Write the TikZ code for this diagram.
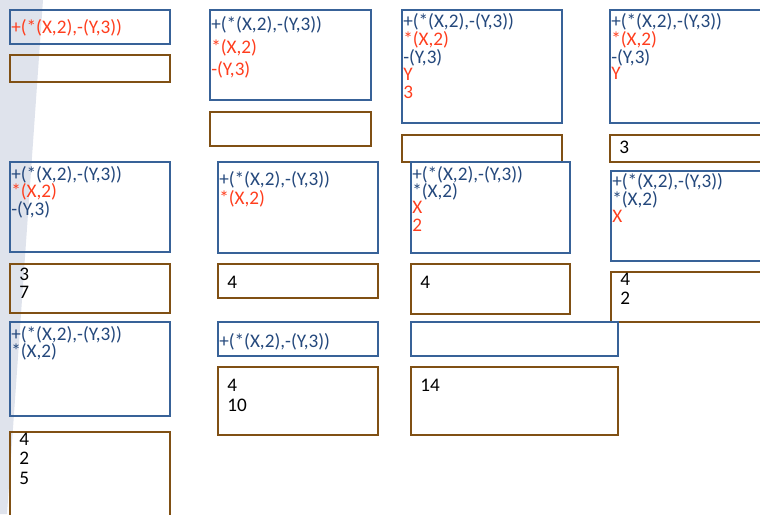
\documentclass[tikz,border=0pt]{standalone}
\usepackage{fontspec}
\setmainfont{Carlito}
\definecolor{bxblue}{RGB}{56,98,152}
\definecolor{txblue}{RGB}{36,72,124}
\definecolor{txred}{RGB}{255,62,30}
\definecolor{bxbrown}{RGB}{128,80,20}
\definecolor{wedge}{RGB}{223,227,236}
\newcommand{\tl}[5]{\node[txt,text=#4] (#1) at (#2,#3) {#5};}
\begin{document}
\begin{tikzpicture}[x=0.75pt,y=-0.75pt,
  bb/.style={draw=bxblue,line width=1pt},
  br/.style={draw=bxbrown,line width=1pt},
  txt/.style={anchor=base west,inner sep=0pt,font=\fontsize{14.4}{16}\selectfont}]
\useasboundingbox (0,0) rectangle (760,514);
\clip (0,0) rectangle (760,514);
\fill[wedge] (0,0) -- (43,0) -- (7,514) -- (0,514) -- cycle;
% Row 1
\draw[bb] (10,10) rectangle (170,44);
\tl{a1}{11}{33}{txred}{+(*(X,2),-(Y,3))}
\draw[br] (10,55) rectangle (170,82);
\draw[bb] (210,10) rectangle (371,100);
\tl{b1}{211}{31}{txblue}{+(*(X,2),-(Y,3))}
\tl{b2}{211}{53}{txred}{*(X,2)}
\tl{b3}{211}{75}{txred}{-(Y,3)}
\draw[br] (210,112) rectangle (371,146);
\draw[bb] (402,10) rectangle (562,123);
\tl{c1}{403}{27}{txblue}{+(*(X,2),-(Y,3))}
\tl{c2}{403}{45}{txred}{*(X,2)}
\tl{c3}{403}{63}{txblue}{-(Y,3)}
\tl{c4}{403}{80}{txred}{Y}
\tl{c5}{403}{98}{txred}{3}
\draw[br] (402,135) rectangle (562,162);
\draw[bb] (610,10) rectangle (780,123);
\tl{d1}{611}{27}{txblue}{+(*(X,2),-(Y,3))}
\tl{d2}{611}{45}{txred}{*(X,2)}
\tl{d3}{611}{63}{txblue}{-(Y,3)}
\tl{d4}{611}{79}{txred}{Y}
\draw[br] (610,135) rectangle (780,162);
\tl{d5}{619}{153}{black}{3}
% Row 2
\draw[bb] (10,162) rectangle (170,252);
\tl{e1}{11}{180}{txblue}{+(*(X,2),-(Y,3))}
\tl{e2}{11}{197}{txred}{*(X,2)}
\tl{e3}{11}{215}{txblue}{-(Y,3)}
\draw[br] (10,264) rectangle (170,313);
\tl{e4}{19}{280}{black}{3}
\tl{e5}{19}{298}{black}{7}
\draw[bb] (218,162) rectangle (378,253);
\tl{f1}{219}{185}{txblue}{+(*(X,2),-(Y,3))}
\tl{f2}{219}{204}{txred}{*(X,2)}
\draw[br] (218,264) rectangle (378,298);
\tl{f3}{227}{288}{black}{4}
\draw[bb] (411,162) rectangle (570,253);
\tl{g1}{412}{180}{txblue}{+(*(X,2),-(Y,3))}
\tl{g2}{412}{197}{txblue}{*(X,2)}
\tl{g3}{412}{213}{txred}{X}
\tl{g4}{412}{231}{txred}{2}
\draw[br] (411,264) rectangle (570,314);
\tl{g5}{420}{288}{black}{4}
\draw[bb] (611,171) rectangle (780,261);
\tl{h1}{612}{187}{txblue}{+(*(X,2),-(Y,3))}
\tl{h2}{612}{205}{txblue}{*(X,2)}
\tl{h3}{612}{222}{txred}{X}
\draw[br] (611,272) rectangle (780,322);
\tl{h4}{620}{285}{black}{4}
\tl{h5}{620}{304}{black}{2}
% Row 3
\draw[bb] (10,322) rectangle (170,416);
\tl{i1}{11}{340}{txblue}{+(*(X,2),-(Y,3))}
\tl{i2}{11}{357}{txblue}{*(X,2)}
\draw[br] (10,432) rectangle (170,530);
\tl{i3}{19}{445}{black}{4}
\tl{i4}{19}{464}{black}{2}
\tl{i5}{19}{484}{black}{5}
\draw[bb] (218,322) rectangle (378,356);
\tl{j1}{219}{347}{txblue}{+(*(X,2),-(Y,3))}
\draw[br] (218,367) rectangle (378,435);
\tl{j2}{227}{391}{black}{4}
\tl{j3}{227}{411}{black}{10}
\draw[bb] (411,322) rectangle (618,356);
\draw[br] (411,367) rectangle (618,435);
\tl{k1}{420}{391}{black}{14}
\end{tikzpicture}
\end{document}
